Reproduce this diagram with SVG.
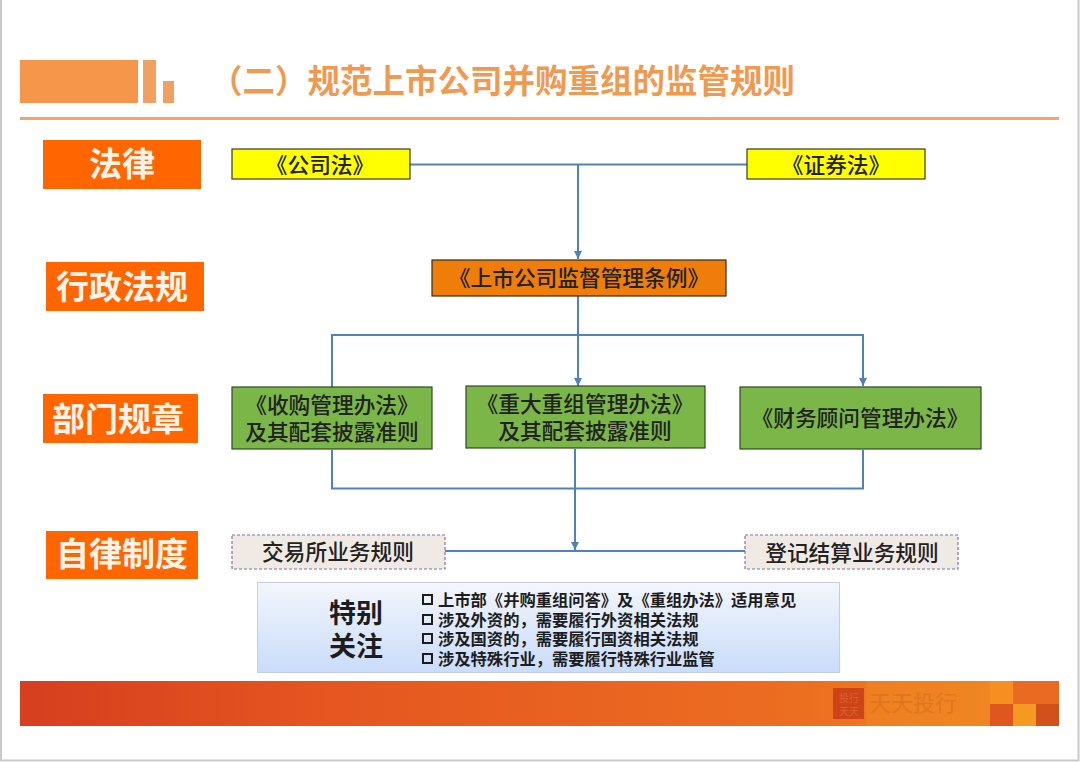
<svg xmlns="http://www.w3.org/2000/svg" width="1080" height="762" viewBox="0 0 1080 762">
<defs>
<linearGradient id="foot" x1="0" x2="1" y1="0" y2="0"><stop offset="0" stop-color="#d63f1f"/><stop offset="0.3" stop-color="#e55620"/><stop offset="0.75" stop-color="#ec6e20"/><stop offset="1" stop-color="#f08a22"/></linearGradient>
<linearGradient id="note" x1="0" x2="0" y1="0" y2="1"><stop offset="0" stop-color="#f3f6fc"/><stop offset="1" stop-color="#c9dcfa"/></linearGradient>
<marker id="arr" markerUnits="userSpaceOnUse" markerWidth="10" markerHeight="9" refX="8" refY="4" orient="auto"><path d="M0 0L8 4L0 8z" fill="#4f81bd"/></marker>
<style>
text{font-family:"Noto Sans CJK SC","Liberation Sans",sans-serif;text-anchor:middle;}
.cat rect{fill:#ff6600;}
.cat text{fill:#fdf3ea;font-size:33px;font-weight:700;}
.yel rect{fill:#ffff00;stroke:#3a3a20;stroke-width:1.2;}
.grn rect{fill:#7ab648;stroke:#2f4a20;stroke-width:1.2;}
.dash rect{fill:#efebe4;stroke:#8a70a8;stroke-width:1.2;stroke-dasharray:3 2;}
.n text{fill:#222;font-size:21.7px;font-weight:500;}
.line{fill:none;stroke:#4f81bd;stroke-width:2;}
.item{text-anchor:start;font-size:16.3px;font-weight:700;fill:#1d1d1d;}
.box{fill:none;stroke:#1d1d1d;stroke-width:2;}
</style>
</defs>
<rect width="1080" height="762" fill="#fff"/>
<path d="M1 0V760.5H1078.500V0" fill="none" stroke="#c9c9c9" stroke-width="2"/>
<g id="header">
<rect x="20" y="60" width="118" height="43" fill="#f5964a"/>
<rect x="143" y="60" width="13" height="43" fill="#f0a060"/>
<rect x="163" y="81" width="11" height="22" fill="#f0a060"/>
<text x="502.500" y="93" font-size="32.500" font-weight="700" fill="#ef9a50">（二）规范上市公司并购重组的监管规则</text>
<rect x="20" y="117" width="1039" height="3" fill="#f4a468"/>
</g>
<g id="connectors">
<path class="line" d="M410 164.500H747"/>
<path class="line" d="M578 164.500V259" marker-end="url(#arr)"/>
<path class="line" d="M578 296V386" marker-end="url(#arr)"/>
<path class="line" d="M332 387V335H863V386" marker-end="url(#arr)"/>
<path class="line" d="M332 450V488.500H863V450"/>
<path class="line" d="M575 449V550" marker-end="url(#arr)"/>
<path class="line" d="M445 551H745"/>
</g>
<g id="cat-law" class="cat"><rect x="43" y="140" width="158" height="49"/><text x="122" y="176">法律</text></g>
<g id="cat-admin" class="cat"><rect x="46" y="262" width="158" height="49"/><text x="122" y="299">行政法规</text></g>
<g id="cat-dept" class="cat"><rect x="43" y="394" width="155" height="49"/><text x="118" y="431">部门规章</text></g>
<g id="cat-self" class="cat"><rect x="46" y="531" width="152" height="48"/><text x="122" y="566">自律制度</text></g>
<g id="n-company" class="n yel"><rect x="232" y="149" width="178" height="30"/><text x="320" y="173">《公司法》</text></g>
<g id="n-securities" class="n yel"><rect x="747" y="149" width="178" height="30"/><text x="836" y="173">《证券法》</text></g>
<g id="n-regulation" class="n"><rect x="432" y="260" width="294" height="36" fill="#ef7d0a" stroke="#3a2a10" stroke-width="1.200"/><text x="579" y="286">《上市公司监督管理条例》</text></g>
<g id="n-acq" class="n grn"><rect x="232" y="387" width="200" height="62"/><text x="332" y="413">《收购管理办法》<tspan x="332" y="440">及其配套披露准则</tspan></text></g>
<g id="n-reorg" class="n grn"><rect x="466" y="386" width="239" height="62"/><text x="585" y="412">《重大重组管理办法》<tspan x="585" y="439">及其配套披露准则</tspan></text></g>
<g id="n-advisor" class="n grn"><rect x="740" y="387" width="241" height="62"/><text x="860" y="426">《财务顾问管理办法》</text></g>
<g id="n-exchange" class="n dash"><rect x="232" y="535" width="213" height="34"/><text x="338" y="560">交易所业务规则</text></g>
<g id="n-clearing" class="n dash"><rect x="745" y="535" width="213" height="34"/><text x="852" y="561">登记结算业务规则</text></g>
<g id="note-box">
<rect x="257.500" y="582.500" width="582" height="90" fill="url(#note)" stroke="#c3cfe0"/>
<text x="356" y="623" font-size="27" font-weight="700" fill="#1d1d1d">特别<tspan x="356" y="656">关注</tspan></text>
<rect class="box" x="423" y="595" width="9" height="9"/>
<rect class="box" x="423" y="615" width="9" height="9"/>
<rect class="box" x="423" y="634" width="9" height="9"/>
<rect class="box" x="423" y="654" width="9" height="9"/>
<text class="item" x="438" y="605.500">上市部《并购重组问答》及《重组办法》适用意见<tspan x="438" y="625.500">涉及外资的，需要履行外资相关法规</tspan><tspan x="438" y="645">涉及国资的，需要履行国资相关法规</tspan><tspan x="438" y="665">涉及特殊行业，需要履行特殊行业监管</tspan></text>
</g>
<g id="footer">
<rect x="20" y="681" width="1039" height="45" fill="url(#foot)"/>
<rect x="866" y="681" width="124" height="45" fill="#f08a22" opacity="0.5"/>
<rect x="990" y="681" width="23" height="23" fill="#f68f22"/>
<rect x="1013" y="681" width="46" height="23" fill="#ea6a22"/>
<rect x="990" y="704" width="23" height="22" fill="#e0561f"/>
<rect x="1013" y="704" width="23" height="22" fill="#f59a20"/>
<rect x="1036" y="704" width="23" height="22" fill="#d2501c"/>
<rect x="833" y="688" width="31" height="31" fill="#cc4418"/>
<text x="849" y="702" font-size="10" fill="#dd6030">投行<tspan x="849" y="715">天天</tspan></text>
<text x="913" y="711" font-size="22" fill="#e0751f">天天投行</text>
</g>
</svg>
